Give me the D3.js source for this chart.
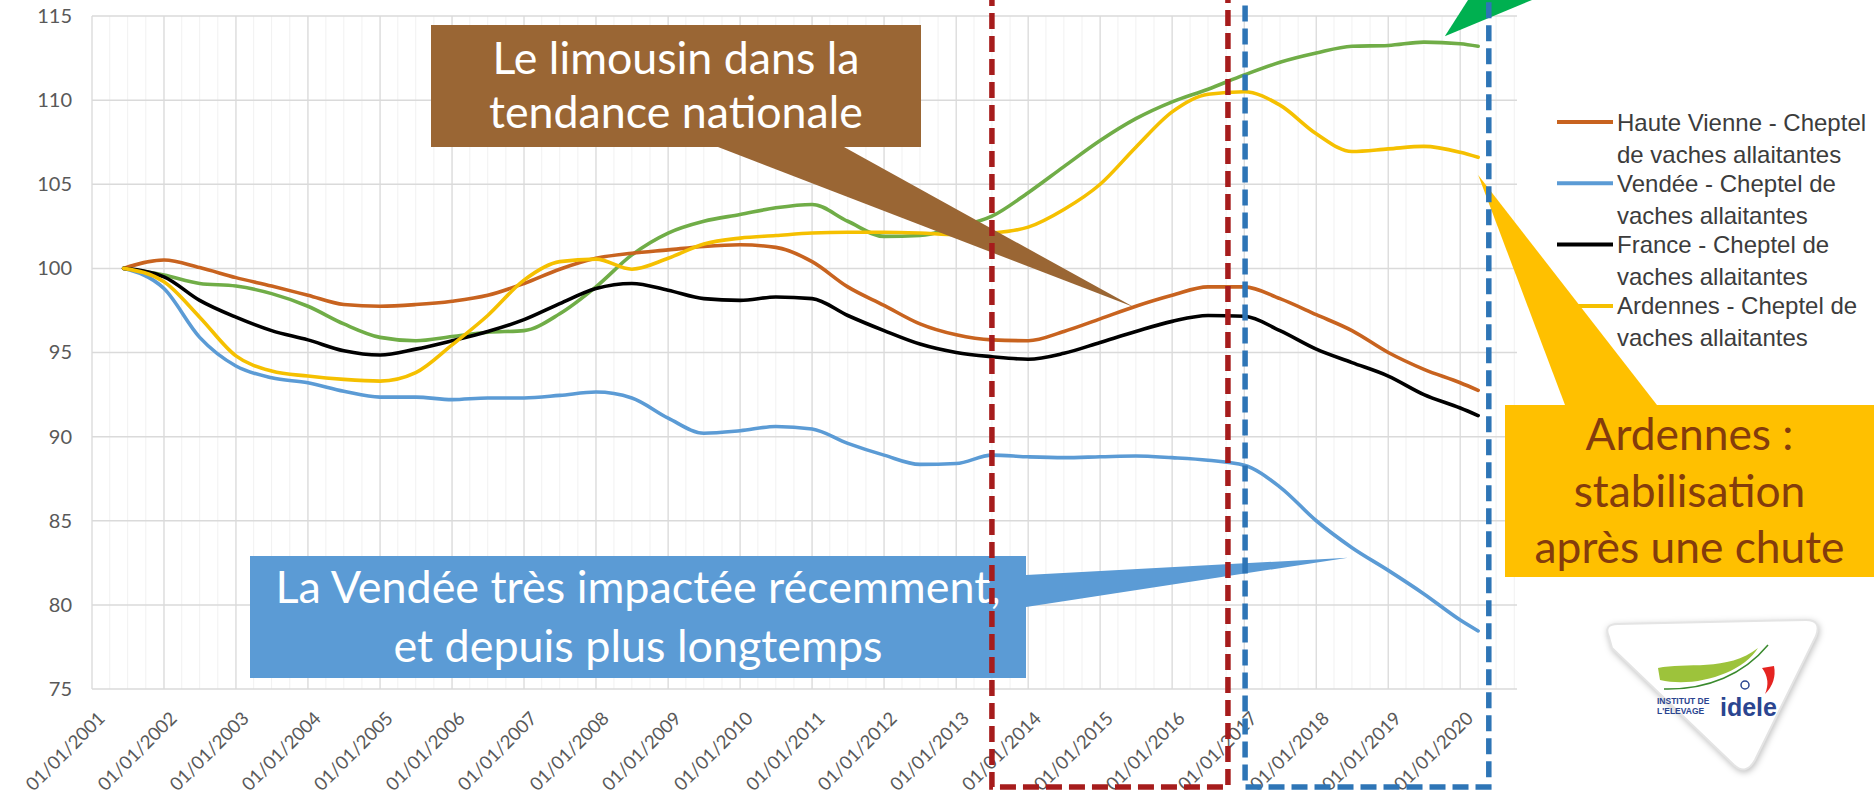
<!DOCTYPE html>
<html>
<head>
<meta charset="utf-8">
<script src="https://cdn.jsdelivr.net/npm/d3@7"></script>
<style>
    body { margin: 0; background: #fff; overflow: hidden; }
    svg { display: block; }
</style>
</head>
<body>
<svg id="chart" width="1874" height="802"></svg>
<script>
(function () {
    'use strict';

    // points, roughly every six months
    const dates = ['2001-06-10', '2002-01-01', '2002-07-01', '2003-01-01', '2003-07-01',
        '2004-01-01', '2004-07-01', '2005-01-01', '2005-07-01', '2006-01-01', '2006-07-01',
        '2007-01-01', '2007-07-01', '2008-01-01', '2008-07-01', '2009-01-01', '2009-07-01',
        '2010-01-01', '2010-07-01', '2011-01-01', '2011-07-01', '2012-01-01', '2012-07-01',
        '2013-01-01', '2013-07-01', '2014-01-01', '2014-07-01', '2015-01-01', '2015-07-01',
        '2016-01-01', '2016-07-01', '2017-01-01', '2017-07-01', '2018-01-01', '2018-07-01',
        '2019-01-01', '2019-07-01', '2020-01-01', '2020-04-01'];

    const hauteVienne = [100, 100.5, 100.05, 99.45, 98.95, 98.4, 97.85, 97.75, 97.85, 98.05,
        98.4, 99.1, 99.95, 100.6, 100.9, 101.1, 101.3, 101.4, 101.25, 100.4,
        98.9, 97.8, 96.7, 96.05, 95.75, 95.7, 96.25, 97.0, 97.75, 98.4,
        98.9, 98.9, 98.2, 97.25, 96.3, 95.0, 94.0, 93.2, 92.75];
    const vendee = [100, 98.8, 95.9, 94.2, 93.5, 93.2, 92.7, 92.35, 92.35, 92.2,
        92.3, 92.3, 92.45, 92.65, 92.3, 91.1, 90.2, 90.35, 90.6, 90.45,
        89.6, 88.9, 88.35, 88.4, 88.9, 88.8, 88.75, 88.8, 88.85, 88.75,
        88.6, 88.3, 87.0, 85.0, 83.4, 82.05, 80.65, 79.1, 78.45];
    const france = [100, 99.5, 98.1, 97.1, 96.3, 95.75, 95.1, 94.85, 95.2, 95.7,
        96.25, 96.95, 97.9, 98.8, 99.1, 98.7, 98.2, 98.1, 98.3, 98.2,
        97.2, 96.3, 95.5, 95.0, 94.75, 94.6, 94.95, 95.6, 96.25, 96.85,
        97.2, 97.15, 96.3, 95.2, 94.4, 93.6, 92.5, 91.7, 91.25];
    const ardennes = [100, 99.2, 97.1, 94.8, 93.9, 93.6, 93.4, 93.3, 93.8, 95.45,
        97.2, 99.3, 100.4, 100.55, 99.95, 100.6, 101.45, 101.8, 101.95, 102.1,
        102.15, 102.15, 102.1, 102.0, 102.1, 102.45, 103.5, 105.0, 107.2, 109.3,
        110.35, 110.5, 109.7, 108.0, 106.95, 107.1, 107.25, 106.9, 106.6];
    // green line, not in the legend (its box is outside the picture)
    const autre = [100, 99.6, 99.1, 98.95, 98.5, 97.75, 96.7, 95.9, 95.7, 95.95,
        96.2, 96.3, 97.3, 98.9, 100.8, 102.1, 102.8, 103.2, 103.6, 103.8,
        102.8, 101.9, 101.95, 102.45, 103.1, 104.5, 106.05, 107.6, 108.9, 109.9,
        110.65, 111.5, 112.25, 112.8, 113.2, 113.25, 113.45, 113.35, 113.2];

    const yTicks = [75, 80, 85, 90, 95, 100, 105, 110, 115];

    const legendLabels = [
        ['Haute Vienne - Cheptel', 'de vaches allaitantes'],
        ['Vendée - Cheptel de', 'vaches allaitantes'],
        ['France - Cheptel de', 'vaches allaitantes'],
        ['Ardennes - Cheptel de', 'vaches allaitantes']
    ];

    const parse = d3.timeParse('%Y-%m-%d');
    const time = dates.map(parse);

    const series = [
        { values: autre, color: '#70AD47' },
        { values: hauteVienne, color: '#C8631F' },
        { values: vendee, color: '#5B9BD5' },
        { values: france, color: '#000000' },
        { values: ardennes, color: '#F5C000' }
    ];
    const legendColors = ['#C8631F', '#5B9BD5', '#000000', '#F5C000'];

    const plot = { left: 92, right: 1517, top: 16, bottom: 689 };

    const x = d3.scaleTime()
        .domain([new Date(2001, 0, 1), new Date(2020, 9, 15)])
        .range([plot.left, plot.right]);

    const y = d3.scaleLinear()
        .domain([75, 115])
        .range([plot.bottom, plot.top]);

    const svg = d3.select('#chart');

    // grid
    const grid = svg.append('g').attr('class', 'grid');

    grid.selectAll('.minor')
        .data(x.ticks(d3.timeMonth.every(3)))
        .enter().append('line')
            .attr('x1', (d) => x(d))
            .attr('x2', (d) => x(d))
            .attr('y1', plot.top)
            .attr('y2', plot.bottom)
            .attr('stroke', '#f1f1f1')
            .attr('stroke-width', 1);

    grid.selectAll('.vmajor')
        .data(x.ticks(d3.timeYear.every(1)))
        .enter().append('line')
            .attr('x1', (d) => x(d))
            .attr('x2', (d) => x(d))
            .attr('y1', plot.top)
            .attr('y2', plot.bottom)
            .attr('stroke', '#dcdcdc')
            .attr('stroke-width', 1.3);

    grid.selectAll('.hmajor')
        .data(yTicks)
        .enter().append('line')
            .attr('x1', plot.left)
            .attr('x2', plot.right)
            .attr('y1', (d) => y(d))
            .attr('y2', (d) => y(d))
            .attr('stroke', '#dadada')
            .attr('stroke-width', 1.5);

    // axes
    const yAxis = svg.append('g')
        .attr('transform', `translate(${plot.left}, 0)`)
        .call(d3.axisLeft(y).tickValues(yTicks).tickSize(0).tickPadding(20));
    yAxis.select('.domain').remove();
    yAxis.selectAll('text')
        .attr('font-family', 'Lato, sans-serif')
        .attr('font-size', 20)
        .attr('fill', '#595959');

    const xAxis = svg.append('g')
        .attr('transform', `translate(0, ${plot.bottom})`)
        .call(d3.axisBottom(x)
            .ticks(d3.timeYear.every(1))
            .tickFormat(d3.timeFormat('%d/%m/%Y'))
            .tickSize(0));
    xAxis.select('.domain').remove();
    xAxis.selectAll('text')
        .attr('font-family', 'Lato, sans-serif')
        .attr('font-size', 18.5)
        .attr('fill', '#595959')
        .attr('text-anchor', 'end')
        .attr('x', 0)
        .attr('y', 0)
        .attr('dy', '0.35em')
        .attr('transform', 'translate(9, 26) rotate(-45)');

    // lines
    const line = d3.line()
        .x((d, i) => x(time[i]))
        .y((d) => y(d))
        .curve(d3.curveMonotoneX);

    svg.append('g')
        .selectAll('path')
        .data(series)
        .enter().append('path')
            .attr('d', (d) => line(d.values))
            .attr('fill', 'none')
            .attr('stroke', (d) => d.color)
            .attr('stroke-width', 3.6)
            .attr('stroke-linejoin', 'round')
            .attr('stroke-linecap', 'round');

    // legend
    const legend = svg.append('g')
        .selectAll('g')
        .data(legendLabels)
        .enter().append('g')
            .attr('transform', (d, i) => `translate(1557, ${122 + i * 61.3})`);

    legend.append('line')
        .attr('x1', 0)
        .attr('x2', 56)
        .attr('stroke', (d, i) => legendColors[i])
        .attr('stroke-width', 4);

    legend.selectAll('text')
        .data((d) => d)
        .enter().append('text')
            .attr('x', 60)
            .attr('y', (d, i) => 8.5 + i * 32)
            .attr('font-family', '"Liberation Sans", Arial, sans-serif')
            .attr('font-size', 24)
            .attr('fill', '#3c3c3c')
            .text((d) => d);

    // callouts
    const callouts = [
        {
            lines: ['Le limousin dans la', 'tendance nationale'],
            fill: '#9A6634', color: '#ffffff',
            box: [431, 25, 921, 147],
            base: [[718, 147], [844, 147]],
            tip: [new Date(2015, 5, 20), 97.7],
            baselines: [74, 128], fit: 1, width: 374
        },
        {
            lines: ['La Vendée très impactée récemment,', 'et depuis plus longtemps'],
            fill: '#5B9BD5', color: '#ffffff',
            box: [250, 556, 1026, 678],
            base: [[1026, 575], [1026, 607]],
            tip: [new Date(2018, 5, 10), 82.8],
            baselines: [603, 662], fit: 0, width: 725
        },
        {
            lines: ['Ardennes :', 'stabilisation', 'après une chute'],
            fill: '#FFC000', color: '#843C0C',
            box: [1505, 405, 1874, 577],
            base: [[1565, 405], [1657, 405]],
            tip: [new Date(2020, 3, 1), 105.55],
            baselines: [450, 507, 563], fit: 2, width: 310
        }
    ];

    const notes = svg.append('g').attr('class', 'callouts');

    callouts.forEach((c) => {
        const g = notes.append('g');
        g.append('rect')
            .attr('x', c.box[0])
            .attr('y', c.box[1])
            .attr('width', c.box[2] - c.box[0])
            .attr('height', c.box[3] - c.box[1])
            .attr('fill', c.fill);
        g.append('polygon')
            .attr('points', [c.base[0], [x(c.tip[0]), y(c.tip[1])], c.base[1]].join(' '))
            .attr('fill', c.fill);
        const cx = (c.box[0] + c.box[2]) / 2;
        const texts = g.selectAll('text')
            .data(c.lines)
            .enter().append('text')
                .attr('x', cx)
                .attr('y', (d, i) => c.baselines[i])
                .attr('text-anchor', 'middle')
                .attr('font-family', 'Lato, sans-serif')
                .attr('font-size', 40)
                .attr('fill', c.color)
                .text((d) => d);
        const w = texts.nodes()[c.fit].getComputedTextLength();
        texts.attr('font-size', 40 * c.width / w);
    });

    // green pointer coming from above the picture
    const gTip = [x(new Date(2019, 9, 15)), y(113.8)];
    notes.append('polygon')
        .attr('points', [gTip, [1468, 0], [1532, 0]].join(' '))
        .attr('fill', '#00B050');

    // dashed frames
    const frames = [
        { from: new Date(2013, 6, 1), to: new Date(2016, 9, 10), color: '#A61C1C' },
        { from: new Date(2017, 0, 5), to: new Date(2020, 4, 25), color: '#2E75B6' }
    ];

    svg.append('g')
        .selectAll('rect')
        .data(frames)
        .enter().append('rect')
            .attr('x', (d) => x(d.from))
            .attr('y', -30)
            .attr('width', (d) => x(d.to) - x(d.from))
            .attr('height', 787 + 30)
            .attr('fill', 'none')
            .attr('stroke', (d) => d.color)
            .attr('stroke-width', 5.5)
            .attr('stroke-dasharray', '16 7');

    // idele logo
    const logo = svg.append('g').attr('class', 'logo');
    logo.append('path')
        .attr('d', 'M1609,637 Q1603,624 1618,624 L1806,620 Q1822,620 1816,636 L1755,760 Q1746,776 1734,765 L1612,648 Z')
        .attr('fill', '#ffffff')
        .attr('stroke', '#e4e4e4')
        .attr('stroke-width', 2)
        .style('filter', 'drop-shadow(1px 2px 3px rgba(0,0,0,0.25))');
    logo.append('path')
        .attr('d', 'M1658,668 C1685,662 1728,672 1758,648 C1742,674 1694,688 1660,680 Z')
        .attr('fill', '#9DC33B');
    logo.append('path')
        .attr('d', 'M1664,689 C1708,690 1744,674 1768,645')
        .attr('fill', 'none')
        .attr('stroke', '#3A8A2E')
        .attr('stroke-width', 1.5);
    logo.append('path')
        .attr('d', 'M1762,668 L1774,666 Q1777,682 1765,694 Q1771,680 1762,668 Z')
        .attr('fill', '#E52421');
    logo.append('circle')
        .attr('cx', 1745)
        .attr('cy', 685)
        .attr('r', 4)
        .attr('fill', 'none')
        .attr('stroke', '#2B4590')
        .attr('stroke-width', 1.5);
    logo.append('text')
        .attr('x', 1657)
        .attr('y', 704)
        .attr('font-family', '"Liberation Sans", Arial, sans-serif')
        .attr('font-size', 8.5)
        .attr('font-weight', 'bold')
        .attr('fill', '#2B4590')
        .text('INSTITUT DE');
    logo.append('text')
        .attr('x', 1657)
        .attr('y', 714)
        .attr('font-family', '"Liberation Sans", Arial, sans-serif')
        .attr('font-size', 8.5)
        .attr('font-weight', 'bold')
        .attr('fill', '#2B4590')
        .text("L'ELEVAGE");
    logo.append('text')
        .attr('x', 1720)
        .attr('y', 716)
        .attr('font-family', '"Liberation Sans", Arial, sans-serif')
        .attr('font-size', 25)
        .attr('font-weight', 'bold')
        .attr('fill', '#2B4590')
        .text('idele');
})();
</script>
</body>
</html>
